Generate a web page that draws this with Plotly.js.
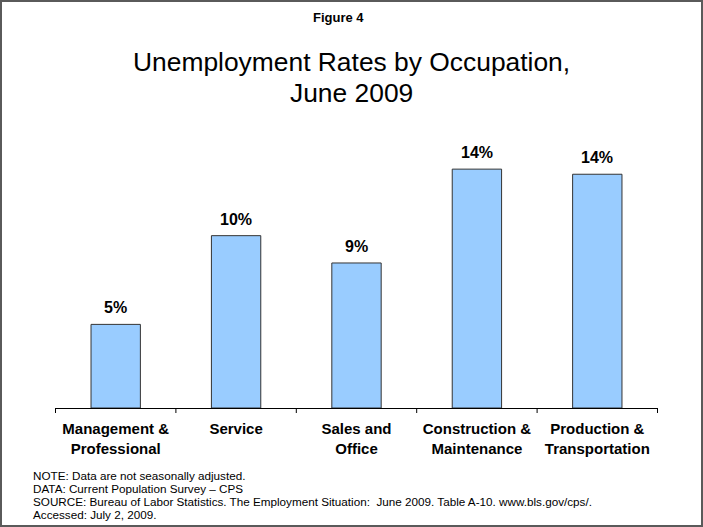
<!DOCTYPE html>
<html>
<head>
<meta charset="utf-8">
<script src="https://cdn.plot.ly/plotly-3.0.1.min.js"></script>
<style>
html,body{margin:0;padding:0;background:#fff;}
#wrap{position:relative;width:703px;height:527px;}
#chart{width:703px;height:527px;}
#frame{position:absolute;left:0;top:0;width:703px;height:527px;box-sizing:border-box;border:2px solid #5a5a5a;pointer-events:none;}
</style>
</head>
<body>
<div id="wrap"><div id="chart"></div><div id="frame"></div></div>
<script>
var categories = ["Management &<br>Professional", "Service", "Sales and<br>Office", "Construction &<br>Maintenance", "Production &<br>Transportation"];
var rates = [4.9, 10.1, 8.5, 14.0, 13.7];
var footnotes = [
  "NOTE: Data are not seasonally adjusted.",
  "DATA: Current Population Survey \u2013 CPS",
  "SOURCE: Bureau of Labor Statistics. The Employment Situation:  June 2009. Table A-10. www.bls.gov/cps/.",
  "Accessed: July 2, 2009."
];

var W = 703, H = 527;
var M = {l: 55, r: 45, t: 135, b: 119};
var PW = W - M.l - M.r, PH = H - M.t - M.b;
var font = "Liberation Sans, Arial, sans-serif";
function px(x) { return (x - M.l) / PW; }
function py(y) { return (H - M.b - y) / PH; }

var trace = {
  type: "bar",
  x: categories,
  y: rates,
  marker: {color: "#99CCFF", line: {color: "#333333", width: 1}},
  hoverinfo: "none"
};

var annotations = [];
for (var i = 0; i < categories.length; i++) {
  annotations.push({
    x: categories[i], y: rates[i], xref: "x", yref: "y",
    text: "<b>" + Math.round(rates[i]) + "%</b>",
    showarrow: false, yanchor: "bottom", yshift: 6,
    font: {family: font, size: 16, color: "#000"}
  });
}
annotations.push({
  xref: "paper", yref: "paper", x: px(338), y: py(18),
  text: "<b>Figure 4</b>", showarrow: false, xanchor: "center", yanchor: "middle",
  font: {family: font, size: 13, color: "#000"}
});
annotations.push({
  xref: "paper", yref: "paper", x: px(351), y: py(62),
  text: "Unemployment Rates by Occupation,", showarrow: false, xanchor: "center", yanchor: "middle",
  font: {family: font, size: 26.4, color: "#000"}
});
annotations.push({
  xref: "paper", yref: "paper", x: px(351), y: py(93),
  text: "June 2009", showarrow: false, xanchor: "center", yanchor: "middle",
  font: {family: font, size: 26.4, color: "#000"}
});
var footY = [475, 488, 501, 514];
for (var j = 0; j < footnotes.length; j++) {
  annotations.push({
    xref: "paper", yref: "paper", x: px(31), y: py(footY[j]),
    text: footnotes[j], showarrow: false, xanchor: "left", yanchor: "middle",
    font: {family: font, size: 11.7, color: "#000"}
  });
}

var layout = {
  width: W, height: H,
  margin: M,
  paper_bgcolor: "#fff", plot_bgcolor: "#fff",
  showlegend: false,
  bargap: 0.59,
  xaxis: {
    type: "category",
    showline: true, linecolor: "#000", linewidth: 1,
    ticks: "", showgrid: false, zeroline: false,
    ticklabelstandoff: 7,
    tickfont: {family: font, size: 15, color: "#000"},
    tickprefix: "<b>", ticksuffix: "</b>"
  },
  yaxis: {
    range: [0, 16], visible: false, showgrid: false, zeroline: false
  },
  annotations: annotations,
  shapes: []
};
for (var k = 0; k <= categories.length; k++) {
  layout.shapes.push({
    type: "line", xref: "x", yref: "paper",
    x0: k - 0.5, x1: k - 0.5, y0: 0, y1: -5 / PH,
    line: {color: "#000", width: 1}
  });
}

Plotly.newPlot("chart", [trace], layout, {staticPlot: true});
</script>
</body>
</html>
